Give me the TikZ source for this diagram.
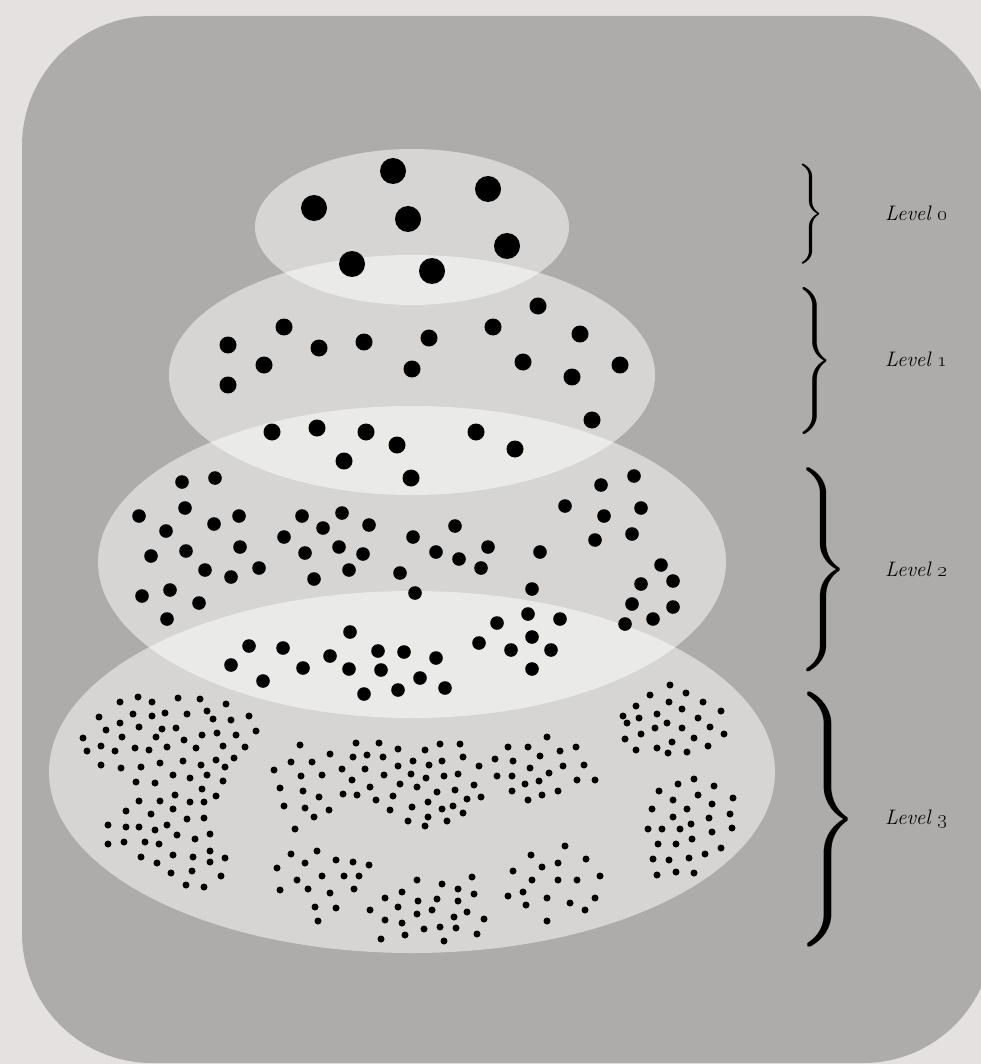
\documentclass[tikz,border=0pt]{standalone}
\usepackage{graphicx}
\definecolor{outerbg}{RGB}{228,225,224}
\definecolor{panel}{RGB}{173,172,170}
\newcommand\bracechar{\hbox{$\nulldelimiterspace=0pt\left.\vcenter to 30pt{\vfil}\right\}$}}
\tikzset{
  lvl/.style={fill=white,fill opacity=0.5},
  lab/.style={font=\fontsize{21}{25}\selectfont\itshape,inner sep=0pt,anchor=base west,text=black},
  brc/.style={inner sep=0pt,anchor=west},
}
\begin{document}
\begin{tikzpicture}[x=1pt,y=-1pt]
\useasboundingbox (0,0) rectangle (981,1064);
\clip (0,0) rectangle (981,1064);
\fill[outerbg] (0,0) rectangle (981,1064);
\fill[panel,rounded corners=130pt] (22,16) rectangle (993,1063);
% level ellipses
\fill[lvl] (412,772) ellipse [x radius=363,y radius=181];
\fill[lvl] (412,562) ellipse [x radius=314,y radius=156];
\fill[lvl] (412,375) ellipse [x radius=243,y radius=120];
\fill[lvl] (412,227) ellipse [x radius=157,y radius=78];
% level 0 dots
\foreach \p in {(393,171),(488,189),(314,208),(408,219),(507,246),(352,264),(432,271)}
  \fill \p circle (13pt);
% level 1 dots
\foreach \p in {(538,306),(284,327),(493,327),(228,345),(319,348),(364,342),(429,338),(580,334),(264,365),(412,369),(523,362),(620,365),(228,385),(572,377),(592,420),(272,432),(317,428),(366,432),(397,445),(476,432),(515,449),(344,461),(411,478)}
  \fill \p circle (8.5pt);
% level 2 dots
\foreach \p in {(182,482),(215,478),(139,516),(185,508),(166,531),(214,524),(239,516),(151,556),(186,551),(240,547),(205,570),(231,577),(259,568),(142,596),(170,590),(199,603),(167,619),
(302,516),(342,513),(323,528),(369,525),(284,537),(305,553),(339,547),(363,554),(349,570),(314,579),(413,537),(400,573),(415,593),
(350,632),(249,646),(283,648),(330,656),(378,651),(404,652),(231,665),(303,668),(349,669),(381,670),(420,678),(263,681),(364,694),(398,690),
(601,485),(634,476),(565,506),(641,508),(604,516),(595,540),(632,534),(455,526),(436,552),(459,559),(488,547),(481,568),(540,552),(532,589),(661,565),(641,584),(673,581),(632,604),(673,607),(653,619),(625,624),(528,614),(560,619),(497,623),(532,637),(479,643),(511,650),(551,650),(532,669),(436,658),(445,688)}
  \fill \p circle (6.8pt);
% level 3 dots
\foreach \p in {(138,697),(120,702),(152,702),(178,698),(200,699),(226,704),(99,717),(133,714),(152,716),(165,713),(187,714),(207,711),(213,719),(231,720),(249,716),(106,730),(120,723),(139,727),(162,729),(176,728),(256,731),(83,738),(122,737),(156,737),(184,740),(202,735),(217,733),(236,735),(87,751),(101,746),(115,751),(135,748),(149,750),(167,747),(196,748),(223,746),(245,747),(101,765),(121,768),(141,767),(160,763),(183,761),(201,765),(216,760),(225,767),(234,758),(136,782),(155,783),(173,775),(190,778),(207,775),(223,781),(202,789),(139,801),(160,801),(175,795),(190,802),(204,802),(216,796),(126,811),(151,814),(173,809),(187,819),(204,818),(108,825),(126,827),(139,827),(155,830),(167,825),(177,835),(195,839),(210,834),(108,844),(124,842),(145,842),(159,844),(141,857),(157,863),(173,855),(193,857),(210,851),(210,862),(225,858),(171,873),(192,871),(221,876),(186,885),(204,887)}
  \fill \p circle (3.5pt);
\foreach \p in {(300,745),(356,743),(379,743),(398,749),(425,750),(440,744),(460,744),(495,759),(330,754),(353,757),(367,755),(383,757),(413,761),(429,765),(442,761),(463,757),(479,766),(291,762),(312,762),(274,770),(301,776),(322,775),(342,769),(365,769),(384,775),(398,766),(411,774),(426,778),(444,776),(458,774),(497,776),(280,788),(303,791),(319,797),(343,794),(352,780),(357,795),(370,787),(376,800),(393,796),(400,784),(417,787),(437,792),(455,790),(474,785),(481,797),(467,799),(284,806),(305,808),(329,810),(314,817),(390,810),(412,807),(428,802),(442,809),(453,806),(463,813),(408,821),(428,817),(447,821),(425,826),(295,829)}
  \fill \p circle (3.5pt);
\foreach \p in {(291,854),(317,851),(277,868),(305,863),(336,860),(353,862),(369,865),(297,880),(322,876),(344,876),(359,876),(280,890),(308,889),(330,893),(354,889),(315,907),(336,908),(318,921),
(417,880),(442,884),(472,877),(402,892),(458,889),(474,894),(385,898),(418,901),(437,899),(458,901),(398,907),(432,910),(467,912),(370,910),(417,914),(454,917),(484,919),(385,920),(402,923),(424,929),(440,927),(456,928),(477,934),(381,939),(405,935),(444,941)}
  \fill \p circle (3.5pt);
\foreach \p in {(670,685),(650,695),(686,693),(636,706),(669,702),(703,702),(682,709),(721,711),(623,716),(639,718),(657,714),(698,718),(627,723),(667,723),(655,728),(682,728),(710,727),(641,734),(694,738),(724,734),(625,739),(672,742),(708,746),(636,750),(657,748),(668,753),(687,752),
(547,737),(508,747),(528,747),(560,751),(576,747),(540,756),(513,761),(563,766),(584,765),(530,768),(549,773),(512,776),(525,784),(539,781),(577,780),(595,780),(512,791),(542,795),(558,791),(528,800)}
  \fill \p circle (3.5pt);
\foreach \p in {(694,779),(678,784),(714,786),(659,791),(698,795),(733,798),(673,800),(712,804),(652,809),(687,809),(730,814),(673,817),(709,818),(691,824),(648,829),(662,829),(680,829),(732,828),(712,832),(692,839),(658,844),(676,844),(721,848),(705,854),(653,859),(669,860),(689,858),(657,875),(676,872),(694,873),
(565,846),(531,855),(586,859),(558,863),(542,867),(513,871),(532,880),(558,880),(577,880),(600,876),(523,892),(508,896),(547,898),(595,898),(526,905),(570,903),(585,910),(547,921)}
  \fill \p circle (3.5pt);
% braces
\node[brc] (b0) at (797,214) {\resizebox*{27pt}{100pt}{\bracechar}};
\node[brc] (b1) at (796,361) {\resizebox*{37pt}{147pt}{\bracechar}};
\node[brc] (b2) at (797,570) {\resizebox*{52pt}{204pt}{\bracechar}};
\node[brc] (b3) at (796,820) {\resizebox*{63pt}{255pt}{\bracechar}};
% labels
\node[lab] (l0) at (885,221) {Level \oldstylenums{0}};
\node[lab] (l1) at (885,366) {Level \oldstylenums{1}};
\node[lab] (l2) at (885,576) {Level \oldstylenums{2}};
\node[lab] (l3) at (885,824) {Level \oldstylenums{3}};
\end{tikzpicture}
\end{document}
